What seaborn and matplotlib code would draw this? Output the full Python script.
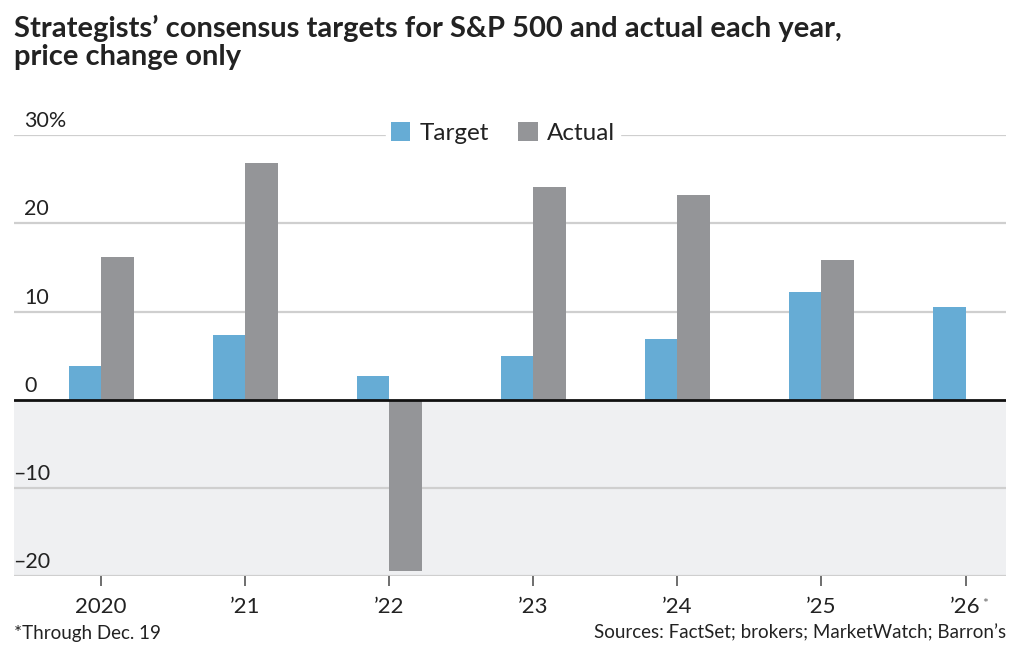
import numpy as np
import pandas as pd
import matplotlib
matplotlib.use("Agg")
import matplotlib.pyplot as plt
import matplotlib.transforms as mtransforms
from matplotlib.patches import Patch
import seaborn as sns

# data (% price change)
years = ["2020", "\u201921", "\u201922", "\u201923", "\u201924", "\u201925", "\u201926"]
target = [3.8, 7.3, 2.7, 4.9, 6.9, 12.2, 10.5]
actual = [16.2, 26.9, -19.4, 24.1, 23.2, 15.8, np.nan]
yticks = [-20, -10, 0, 10, 20, 30]
ytick_labels = ["\u201320", "\u201310", "0", "10", "20", "30%"]

blue = "#66acd5"
grey = "#949598"
shade = "#eff0f2"
txt = "#222222"

rows = []
for yr, t, a in zip(years, target, actual):
    rows.append({"year": yr, "series": "Target", "value": t})
    if not np.isnan(a):
        rows.append({"year": yr, "series": "Actual", "value": a})
df = pd.DataFrame(rows)

sns.set_style("white")
plt.rcParams['font.family'] = ['Lato', 'DejaVu Sans']

fig = plt.figure(figsize=(10.3, 6.55), dpi=100)
ax = fig.add_axes([0.0136, 0.1206, 0.963, 0.673])

ax.axhspan(-20, 0, color=shade, zorder=0, lw=0)
for t in yticks:
    if t != 0:
        ax.axhline(t, color="#cfcfcf", lw=1.6, zorder=1)

sns.barplot(data=df, x="year", y="value", hue="series", order=years,
            hue_order=["Target", "Actual"], palette=[blue, grey],
            width=0.45, dodge=True, saturation=1, legend=False,
            linewidth=0, ax=ax, zorder=2)

ax.axhline(0, color="#111111", lw=2, zorder=3)

ax.set_ylim(-20, 30)
ax.set_xlim(-0.605, 6.28)
ax.set_xlabel("")
ax.set_ylabel("")
ax.set_yticks([])
for s in ax.spines.values():
    s.set_visible(False)

# y labels sitting above their gridlines, digits aligned, minus hanging left
for t, lab in zip(yticks, ytick_labels):
    x0 = 24 / 1030 if t >= 0 else 13 / 1030
    tr = mtransforms.blended_transform_factory(fig.transFigure, ax.transData)
    tr = mtransforms.offset_copy(tr, fig=fig, y=4, units="dots")
    ax.text(x0, t, lab, transform=tr, ha="left", va="bottom",
            fontsize=15.5, color=txt)

ax.tick_params(axis="x", length=7, width=1.2, color="#555555",
               labelsize=16, labelcolor=txt, pad=8, direction="out", bottom=True)
ax.set_xticks(range(len(years)))
ax.set_xticklabels(years)

handles = [Patch(facecolor=blue, edgecolor="none", label="Target"),
           Patch(facecolor=grey, edgecolor="none", label="Actual")]
leg = ax.legend(handles=handles, loc="center", bbox_to_anchor=(503 / 1030, 1 - 133 / 655),
                bbox_transform=fig.transFigure, ncol=2, frameon=True, fontsize=17.5,
                handlelength=0.8, handleheight=0.8, handletextpad=0.4, columnspacing=1.2,
                borderpad=0.2, framealpha=1, edgecolor="white", facecolor="white")
for t in leg.get_texts():
    t.set_color(txt)

fig.text(14 / 1030, 1 - 15 / 655, "Strategists\u2019 consensus targets for S&P 500 and actual each year,\nprice change only",
         ha="left", va="top", fontsize=21, fontweight="bold", color=txt, linespacing=1.1)
fig.text(14 / 1030, 1 - 633 / 655, "*Through Dec. 19", ha="left", va="center", fontsize=13.5, color=txt)
fig.text(1006 / 1030, 1 - 633 / 655, "Sources: FactSet; brokers; MarketWatch; Barron\u2019s",
         ha="right", va="center", fontsize=13.5, color=txt)

# footnote mark next to the last tick label
fig.canvas.draw()
bb = ax.get_xticklabels()[-1].get_window_extent()
fig.text((bb.x1 + 1) / 1030, (bb.y1 - 1) / 655, "*", ha="left", va="top",
         fontsize=10, color="#666666")

fig.savefig("out.png", dpi=100, facecolor="white")
